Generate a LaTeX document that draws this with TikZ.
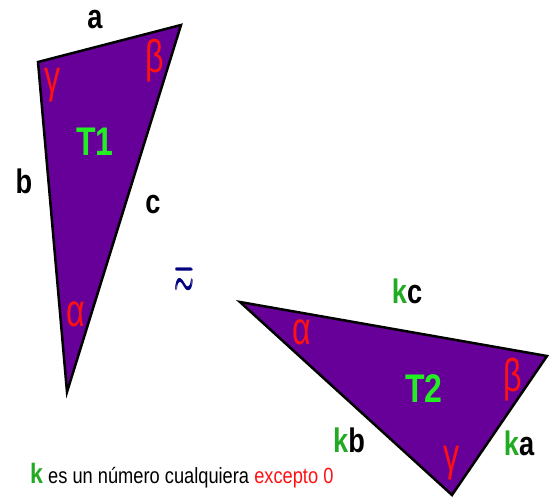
\documentclass[tikz,border=0pt]{standalone}
\usepackage{amsmath,amssymb}
\usepackage{fontspec}
\usepackage{graphicx}
\usepackage{tikz}
\setmainfont{Liberation Sans}
\newfontfamily\narrowsf[FakeStretch=0.8]{Liberation Sans}
\newfontfamily\notesf[FakeStretch=0.83]{Liberation Sans}
\newfontfamily\greeksf[FakeStretch=0.7]{Liberation Sans}
\definecolor{TRPurple}{HTML}{660099}
\definecolor{TRGreen}{HTML}{22EE22}
\definecolor{TRLeaf}{HTML}{22AA22}
\definecolor{TRRed}{HTML}{FF1111}
\definecolor{TRNavy}{HTML}{000080}

\begin{document}
\begin{tikzpicture}[x=1pt,y=-1pt,
    tri/.style={fill=TRPurple,draw=black,line width=2.5pt},
    side/.style={font=\narrowsf\bfseries\fontsize{34}{34}\selectfont,anchor=base,inner sep=0pt},
    angle/.style={text=TRRed,font=\greeksf\fontsize{46}{46}\selectfont,inner sep=0pt},
    tname/.style={text=TRGreen,font=\narrowsf\bfseries\fontsize{40}{40}\selectfont,anchor=base,inner sep=0pt}]
    \useasboundingbox (0,0) rectangle (554,501);
    \coordinate (A1) at (38,62);
    \coordinate (B1) at (181,25);
    \coordinate (C1) at (67,392);
    \coordinate (A2) at (240,302);
    \coordinate (B2) at (547,356);
    \coordinate (C2) at (452,495);
    \draw[tri] (A1) -- (B1) -- (C1) -- cycle;
    \draw[tri] (A2) -- (B2) -- (C2) -- cycle;
    \node[tname] (t1) at (95,155) {T1};
    \node[tname] (t2) at (424,402) {T2};
    \foreach \n/\x/\y/\g in {ga1/53/85/γ,be1/155/61/β,al1/76/314/α,al2/302/332/α,be2/513/380/β,ga2/452/463/γ} {
      \node[angle] (\n) at (\x,\y) {\g};
    }
    \node[side] (a) at (95,28) {a};
    \node[side] (b) at (24,193) {b};
    \node[side] (c) at (153,213) {c};
    \node[side] (kc) at (407,303) {\textcolor{TRLeaf}{k}c};
    \node[side] (kb) at (349,452) {\textcolor{TRLeaf}{k}b};
    \node[side] (ka) at (519,455) {\textcolor{TRLeaf}{k}a};
    \node[text=TRNavy,inner sep=0pt] (sim) at (185,280) {\resizebox{19pt}{25pt}{$\pmb{\eqsim}$}};
    \node[font=\notesf\fontsize{22}{22}\selectfont,anchor=base west,inner sep=0pt] (note) at (30,483)
      {\textcolor{TRLeaf}{\bfseries\fontsize{28}{28}\selectfont k} es un número cualquiera \textcolor{TRRed}{excepto 0}};
\end{tikzpicture}
\end{document}
